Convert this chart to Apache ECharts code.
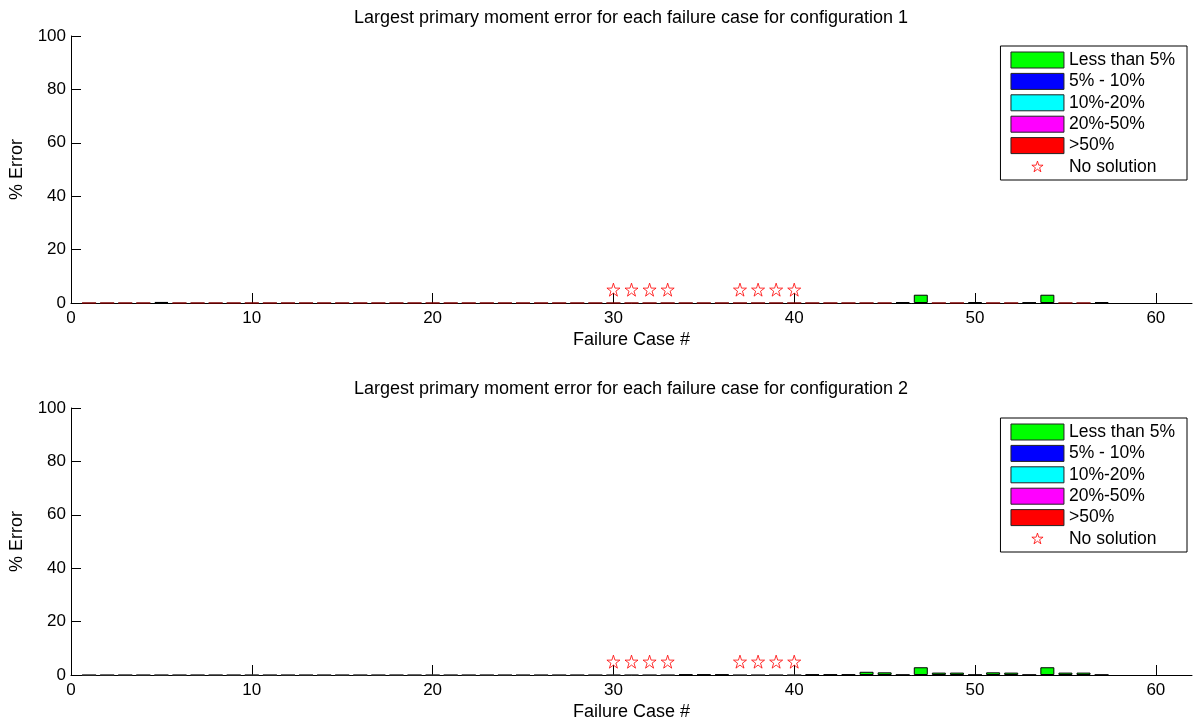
<!DOCTYPE html>
<html lang="en">

<head>
    <meta charset="UTF-8">
    <title>Largest primary moment error</title>
    <style>
        html, body { margin: 0; padding: 0; background: #fff; }
        #chart { width: 1194px; height: 727px; }
    </style>
</head>

<body>
    <div id='chart'></div>

    <script src="https://cdn.jsdelivr.net/npm/echarts@6/dist/echarts.min.js"></script>
    <script>
        // legend / series names
        const bandNames = ['Less than 5%', '5% - 10%', '10%-20%', '20%-50%', '>50%']
        const bandColors = ['#00ff00', '#0000ff', '#00ffff', '#ff00ff', '#ff0000']
        const noSolName = 'No solution'

        const xTicks = [0, 10, 20, 30, 40, 50, 60]

        // configuration 1
        const greenCases1 = [5, 46, 47, 50, 53, 54, 57]
        const greenVals1 = [0.4, 0.3, 3.1, 0.3, 0.2, 3.1, 0.3]
        const flatCases1 = [1, 2, 3, 4, 6, 7, 8, 9, 10, 11, 12, 13, 14, 15, 16, 17, 18, 19, 20,
            21, 22, 23, 24, 25, 26, 27, 28, 29, 30, 31, 32, 33, 34, 35, 36, 37, 38, 39, 40,
            41, 42, 43, 44, 45, 48, 49, 51, 52, 55, 56]
        const starCases1 = [30, 31, 32, 33, 37, 38, 39, 40]

        // configuration 2
        const greenCases2 = [34, 35, 36, 41, 42, 43, 44, 45, 46, 47, 48, 49, 50, 51, 52, 53, 54, 55, 56, 57]
        const greenVals2 = [0.2, 0.2, 0.2, 0.2, 0.2, 0.2, 1.2, 1.0, 0.1, 2.9, 0.9, 0.9, 0.1, 1.0, 0.9, 0.1, 2.9, 0.9, 0.9, 0.1]
        const flatCases2 = [1, 2, 3, 4, 5, 6, 7, 8, 9, 10, 11, 12, 13, 14, 15, 16, 17, 18, 19, 20,
            21, 22, 23, 24, 25, 26, 27, 28, 29, 30, 31, 32, 33, 37, 38, 39, 40]
        const starCases2 = [30, 31, 32, 33, 37, 38, 39, 40]
        const starLevel = 5

        const starShape = 'M50 0 L61.23 34.55 L97.55 34.55 L68.17 55.9 L79.39 90.45 L50 69.1 ' +
            'L20.61 90.45 L31.83 55.9 L2.45 34.55 L38.77 34.55 Z'
        const starPath = 'path://' + starShape
        // same star with empty margin so the legend icon comes out smaller
        const starLegendPath = 'path://M-18 -18 M118 118 ' + starShape

        const font = 'Liberation Sans, Arial, sans-serif'
        const grids = [
            { left: 70, right: 2, top: 36, height: 267 },
            { left: 70, right: 2, top: 408, height: 267 }
        ]

        function pairs(xs, ys) {
            return xs.map((x, i) => [x, ys[i]])
        }

        function makeAxes(i) {
            const x = {
                type: 'value', gridIndex: i, min: 0, max: 62, interval: 10,
                name: 'Failure Case #', nameLocation: 'middle', nameGap: 28,
                nameTextStyle: { color: '#000', fontSize: 18, fontFamily: font },
                axisLine: { lineStyle: { color: '#000', width: 1 } },
                axisTick: { inside: true, length: 10, customValues: xTicks, lineStyle: { color: '#000' } },
                axisLabel: { customValues: xTicks, color: '#000', fontSize: 17, fontFamily: font, margin: 7 },
                splitLine: { show: false }
            }
            const y = {
                type: 'value', gridIndex: i, min: 0, max: 100, interval: 20,
                name: '% Error', nameLocation: 'middle', nameGap: 45,
                nameTextStyle: { color: '#000', fontSize: 18, fontFamily: font },
                axisLine: { show: true, lineStyle: { color: '#000', width: 1 } },
                axisTick: { show: true, inside: true, length: 10, lineStyle: { color: '#000' } },
                axisLabel: { color: '#000', fontSize: 17, fontFamily: font, margin: 5 },
                splitLine: { show: false }
            }
            return [x, y]
        }

        function makeSeries(i, greenCases, greenVals, flatCases, flatColor, flatBorder, starCases) {
            const list = bandNames.map((name, k) => {
                let data = []
                if (k === 0) data = pairs(greenCases, greenVals)
                return {
                    type: 'bar', name: name, xAxisIndex: i, yAxisIndex: i,
                    barWidth: 14, barGap: '-100%',
                    itemStyle: { color: bandColors[k], borderColor: '#000', borderWidth: 1 },
                    data: data
                }
            })
            // zero-height bars sitting on the baseline
            const flatIdx = bandNames.indexOf(flatColor)
            list[flatIdx].data = list[flatIdx].data.concat(flatCases.map(c => ({
                value: [c, 0], itemStyle: { borderColor: flatBorder }
            })))
            list.push({
                type: 'scatter', name: noSolName, xAxisIndex: i, yAxisIndex: i,
                symbol: starPath, symbolSize: 13,
                itemStyle: { color: '#fff', borderColor: '#ff0000', borderWidth: 1 },
                data: starCases.map(c => [c, starLevel]),
                z: 5
            })
            return list
        }

        function makeLegend(top) {
            return {
                orient: 'vertical', right: 7, top: top,
                backgroundColor: '#fff', borderColor: '#000', borderWidth: 1,
                padding: [5, 12, 4, 10],
                itemWidth: 53, itemHeight: 16, itemGap: 3.4, selectedMode: false,
                textStyle: { color: '#000', fontSize: 17.5, fontFamily: font, lineHeight: 16 },
                data: bandNames.map(n => ({ name: n, icon: 'rect', itemStyle: { borderColor: '#222', borderWidth: 1 } }))
                    .concat([{ name: noSolName, icon: starLegendPath, itemStyle: { color: '#fff', borderColor: '#ff0000', borderWidth: 1 } }])
            }
        }

        const ax1 = makeAxes(0)
        const ax2 = makeAxes(1)

        const option = {
            animation: false,
            backgroundColor: '#fff',
            title: [
                {
                    text: 'Largest primary moment error for each failure case for configuration 1',
                    left: 631, top: 9, textAlign: 'center', padding: 0,
                    textStyle: { color: '#000', fontSize: 18, fontWeight: 'normal', fontFamily: font }
                },
                {
                    text: 'Largest primary moment error for each failure case for configuration 2',
                    left: 631, top: 380, textAlign: 'center', padding: 0,
                    textStyle: { color: '#000', fontSize: 18, fontWeight: 'normal', fontFamily: font }
                }
            ],
            legend: [makeLegend(46), makeLegend(418)],
            grid: grids,
            xAxis: [ax1[0], ax2[0]],
            yAxis: [ax1[1], ax2[1]],
            series: makeSeries(0, greenCases1, greenVals1, flatCases1, '>50%', '#7a0000', starCases1)
                .concat(makeSeries(1, greenCases2, greenVals2, flatCases2, 'Less than 5%', '#333', starCases2))
        }

        const myChart = echarts.init(document.querySelector('#chart'))
        myChart.setOption(option)
    </script>
</body>

</html>
